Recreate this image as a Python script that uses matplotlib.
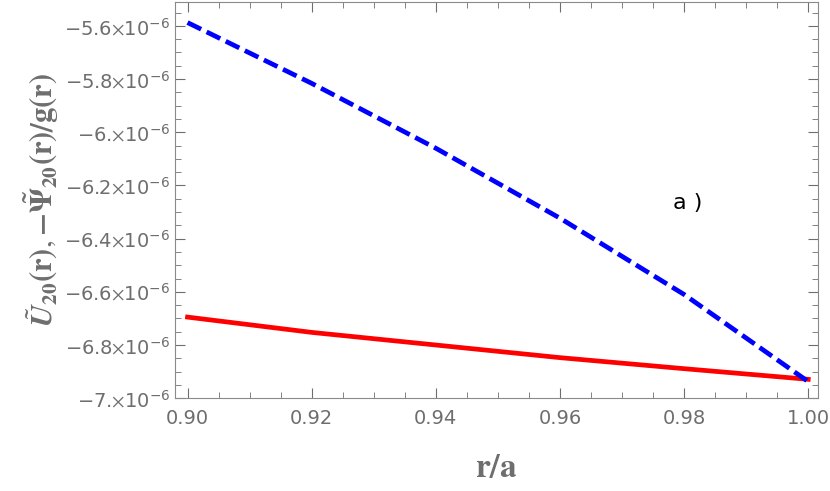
import matplotlib
matplotlib.use("Agg")
import matplotlib.pyplot as plt
from matplotlib.ticker import FixedLocator, FixedFormatter, MultipleLocator

plt.rcParams["mathtext.fontset"] = "stix"

r = [0.90, 0.92, 0.94, 0.96, 0.98, 1.00]
u20 = [-6.695, -6.7525, -6.800, -6.8475, -6.889, -6.929]        # red, solid (x1e-6)
psi_g = [-5.5875, -5.816, -6.060, -6.323, -6.610, -6.9375]      # blue, dashed (x1e-6)
yticks = [-5.6, -5.8, -6.0, -6.2, -6.4, -6.6, -6.8, -7.0]
ytick_labels = ["−5.6", "−5.8", "−6.", "−6.2", "−6.4", "−6.6", "−6.8", "−7."]

gray = "#6e6e6e"
fig = plt.figure(figsize=(8.3, 4.91), dpi=100)
ax = fig.add_axes([0.211, 0.189, 0.774, 0.807])

ax.plot(r, [v * 1e-6 for v in u20], color="#ff0000", lw=3.4)
ax.plot(r, [v * 1e-6 for v in psi_g], color="#0000ff", lw=3.4, ls=(0, (3.2, 1.3)))

ax.set_xlim(0.898, 1.0015)
ax.set_ylim(-7.0e-6, -5.51e-6)
ax.set_xticks([0.90, 0.92, 0.94, 0.96, 0.98, 1.00])
ax.set_xticklabels(["0.90", "0.92", "0.94", "0.96", "0.98", "1.00"])
ax.yaxis.set_major_locator(FixedLocator([v * 1e-6 for v in yticks]))
ax.yaxis.set_major_formatter(FixedFormatter(
    [s + r"$\times\mathregular{10^{-6}}$" for s in ytick_labels]))
ax.xaxis.set_minor_locator(MultipleLocator(0.005))
ax.yaxis.set_minor_locator(MultipleLocator(0.05e-6))

ax.tick_params(which="both", direction="in", top=True, right=True,
               color=gray, labelcolor=gray, labelsize=14)
ax.tick_params(which="major", length=7)
ax.tick_params(which="minor", length=4)
ax.tick_params(axis="x", pad=8)
for s in ax.spines.values():
    s.set_color("#8a8a8a")

ax.set_xlabel(r"$\mathbf{r/a}$", fontsize=24, color=gray, labelpad=16)
ax.set_ylabel(r"$\tilde{\boldsymbol{U}}_{\mathbf{20}}\mathbf{(r)},\mathbf{-\tilde{\Psi}_{20}(r)/g(r)}$",
              fontsize=22, color=gray, labelpad=2)
ax.text(0.9806, -6.266e-6, "a )", fontsize=16, color="black",
        ha="center", va="center")

fig.savefig("out.png", dpi=100)
